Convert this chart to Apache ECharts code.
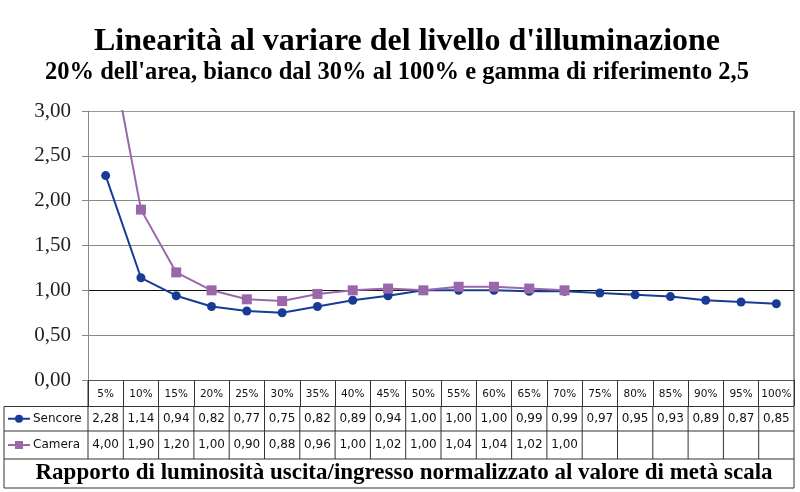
<!DOCTYPE html>
<html>
<head>
<meta charset="utf-8">
<script src="https://cdn.jsdelivr.net/npm/echarts@6/dist/echarts.min.js"></script>
<style>
  html, body { margin: 0; padding: 0; background: #fff; }
  #main { width: 800px; height: 492px; }
</style>
</head>
<body>
<div id="main"></div>
<script>
// dati
var categorie = ['5%', '10%', '15%', '20%', '25%', '30%', '35%', '40%', '45%', '50%',
                 '55%', '60%', '65%', '70%', '75%', '80%', '85%', '90%', '95%', '100%'];
var sencore = [2.28, 1.14, 0.94, 0.82, 0.77, 0.75, 0.82, 0.89, 0.94, 1.00,
               1.00, 1.00, 0.99, 0.99, 0.97, 0.95, 0.93, 0.89, 0.87, 0.85];
var camera = [4.00, 1.90, 1.20, 1.00, 0.90, 0.88, 0.96, 1.00, 1.02, 1.00,
              1.04, 1.04, 1.02, 1.00];
var nomiSerie = ['Sencore', 'Camera'];
var coloriSerie = ['#183c96', '#9b67ab'];
var titolo = "Linearità al variare del livello d'illuminazione";
var sottotitolo = "20% dell'area, bianco dal 30% al 100% e gamma di riferimento 2,5";
var titoloAsse = 'Rapporto di luminosità uscita/ingresso normalizzato al valore di metà scala';

function virgola(v) {
    return v.toFixed(2).replace('.', ',');
}

//1: inizializzo il grafico
var myChart = echarts.init(document.getElementById('main'));

var serif = '"Liberation Serif", "DejaVu Serif", serif';
var sans = '"DejaVu Sans", sans-serif';

//2: opzioni
var option = {
    animation: false,
    backgroundColor: '#fff',
    grid: { left: 88, right: 6, top: 111, bottom: 112 },
    xAxis: {
        type: 'category',
        data: categorie,
        boundaryGap: true,
        axisLine: { lineStyle: { color: '#555', width: 1 } },
        axisTick: { show: true, interval: 0, length: 26, lineStyle: { color: '#333' } },
        axisLabel: { interval: 0, color: '#111', fontFamily: sans, fontSize: 10.5, margin: 9 }
    },
    yAxis: {
        type: 'value',
        min: 0, max: 3, interval: 0.5,
        axisLine: { show: true, lineStyle: { color: '#888' } },
        axisTick: { show: true, length: 6, lineStyle: { color: '#888' } },
        axisLabel: {
            color: '#222', fontFamily: serif, fontSize: 21, margin: 17,
            formatter: virgola
        },
        splitLine: {
            lineStyle: { color: ['#888', '#888', '#111', '#888', '#888', '#888', '#999'], width: 1 }
        }
    },
    series: [{
        name: nomiSerie[0],
        type: 'line',
        data: sencore,
        symbol: 'circle',
        symbolSize: 9,
        clip: true,
        z: 3,
        lineStyle: { color: coloriSerie[0], width: 2 },
        itemStyle: { color: coloriSerie[0] }
    }, {
        name: nomiSerie[1],
        type: 'line',
        data: camera,
        symbol: 'rect',
        symbolSize: 10,
        clip: true,
        z: 4,
        lineStyle: { color: coloriSerie[1], width: 2 },
        itemStyle: { color: coloriSerie[1] }
    }]
};
myChart.setOption(option);

//3: tabella dati sotto il grafico
var x0 = myChart.convertToPixel({ xAxisIndex: 0 }, 0);
var x1 = myChart.convertToPixel({ xAxisIndex: 0 }, 1);
var passo = x1 - x0;
var sinistra = x0 - passo / 2;
var destra = sinistra + passo * categorie.length;
var yAsse = myChart.convertToPixel({ yAxisIndex: 0 }, 0);
var righe = [yAsse + 26.5, yAsse + 51, yAsse + 79, yAsse + 108];
var bordo = 4;
var tratto = { stroke: '#333', lineWidth: 1 };
var el = [];

function linea(xa, ya, xb, yb) {
    el.push({ type: 'line', shape: { x1: xa, y1: ya, x2: xb, y2: yb }, style: tratto, silent: true });
}

righe.forEach(function (y) { linea(bordo, y, destra, y); });
linea(bordo, righe[0], bordo, righe[3]);
linea(sinistra, yAsse, sinistra, righe[2]);
linea(destra, 111, destra, righe[3]);
for (var i = 1; i < categorie.length; i++) {
    linea(sinistra + passo * i, righe[0], sinistra + passo * i, righe[2]);
}

[sencore, camera].forEach(function (valori, r) {
    var yc = (righe[r] + righe[r + 1]) / 2;
    valori.forEach(function (v, i) {
        el.push({
            type: 'text', silent: true,
            x: sinistra + passo * (i + 0.5), y: yc,
            style: { text: virgola(v), fill: '#111', font: '12px ' + sans, align: 'center', verticalAlign: 'middle' }
        });
    });
    // legenda nella prima colonna
    linea(8, yc, 30, yc);
    el[el.length - 1].style = { stroke: coloriSerie[r], lineWidth: 2 };
    if (r === 0) {
        el.push({ type: 'circle', silent: true, shape: { cx: 19, cy: yc, r: 4 }, style: { fill: coloriSerie[r] } });
    } else {
        el.push({ type: 'rect', silent: true, shape: { x: 15, y: yc - 4, width: 8, height: 8 }, style: { fill: coloriSerie[r] } });
    }
    el.push({
        type: 'text', silent: true, x: 33, y: yc,
        style: { text: nomiSerie[r], fill: '#111', font: '12px ' + sans, align: 'left', verticalAlign: 'middle' }
    });
});

// titoli
el.push({
    type: 'text', silent: true, x: 407, y: 42,
    style: { text: titolo, fill: '#000', font: 'bold 32px ' + serif, align: 'center', verticalAlign: 'middle' }
});
el.push({
    type: 'text', silent: true, x: 397, y: 73,
    style: { text: sottotitolo, fill: '#000', font: 'bold 24.5px ' + serif, align: 'center', verticalAlign: 'middle' }
});
el.push({
    type: 'text', silent: true, x: 404, y: (righe[2] + righe[3]) / 2,
    style: { text: titoloAsse, fill: '#000', font: 'bold 23px ' + serif, align: 'center', verticalAlign: 'middle' }
});

//4: applico gli elementi grafici
myChart.setOption({ graphic: { elements: el } });
</script>
</body>
</html>
